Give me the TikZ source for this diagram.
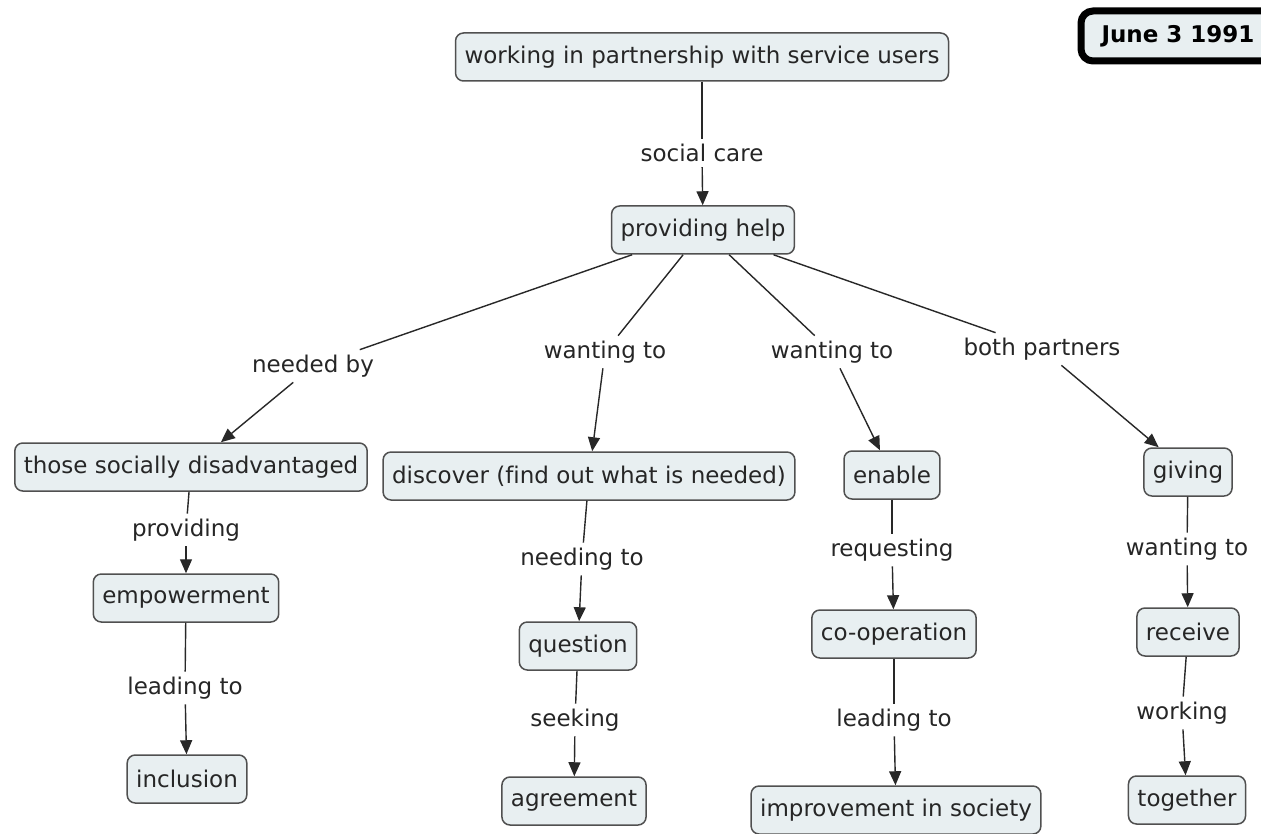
\documentclass[tikz,border=0pt]{standalone}
\usepackage{fontspec}
\setmainfont[Ligatures={NoCommon}]{DejaVu Sans}
\usetikzlibrary{arrows.meta}
\definecolor{boxfill}{RGB}{232,239,241}
\definecolor{boxline}{RGB}{80,80,80}
\definecolor{linkc}{RGB}{40,40,40}
\tikzset{
  concept/.style={draw=boxline, line width=1.5pt, fill=boxfill, rounded corners=8pt,
    minimum height=48pt, inner xsep=9pt, inner ysep=4pt, font=\fontsize{23}{26}\selectfont, text=black!85},
  lbl/.style={inner sep=5pt, font=\fontsize{23}{26}\selectfont, text=black!85},
  link/.style={draw=linkc, line width=1.4pt},
  arr/.style={link, -{Triangle[length=14pt,width=12pt]}},
}
\begin{document}
\begin{tikzpicture}[x=1pt,y=-1pt]
\useasboundingbox[fill=white] (0,0) rectangle (1261,834);
% date
\node[draw=black, line width=7pt, fill=boxfill, rounded corners=12pt, minimum width=194pt, minimum height=50pt,
  font=\bfseries\fontsize{23}{26}\selectfont] (date) at (1178,36) {June 3 1991};
% concepts
\node[concept] (top) at (702,57) {working in partnership with service users};
\node[concept] (ph) at (703,230) {providing help};
\node[concept] (those) at (191,467) {those socially disadvantaged};
\node[concept] (disc) at (589,476) {discover (find out what is needed)};
\node[concept] (enable) at (892,475) {enable};
\node[concept] (giving) at (1188,472) {giving};
\node[concept] (emp) at (186,598) {empowerment};
\node[concept] (incl) at (187,779) {inclusion};
\node[concept] (quest) at (578,646) {question};
\node[concept] (agree) at (574,801) {agreement};
\node[concept] (coop) at (894,634) {co-operation};
\node[concept] (impr) at (896,810) {improvement in society};
\node[concept] (recv) at (1188,632) {receive};
\node[concept] (tog) at (1187,800) {together};
% labels
\node[lbl] (l1) at (702,153) {social care};
\node[lbl] (l2) at (313,366) {needed by};
\node[lbl] (l3) at (605,352) {wanting to};
\node[lbl] (l4) at (832,352) {wanting to};
\node[lbl] (l5) at (1042,349) {both partners};
\node[lbl] (l6) at (186,530) {providing};
\node[lbl] (l7) at (185,688) {leading to};
\node[lbl] (l8) at (582,559) {needing to};
\node[lbl] (l9) at (575,720) {seeking};
\node[lbl] (l10) at (892,550) {requesting};
\node[lbl] (l11) at (894,720) {leading to};
\node[lbl] (l12) at (1187,549) {wanting to};
\node[lbl] (l13) at (1182,713) {working};
% links
\draw[link] (top) -- (l1); \draw[arr] (l1) -- (ph);
\draw[link] (ph) -- (l2); \draw[arr] (l2) -- (those);
\draw[link] (ph) -- (l3); \draw[arr] (l3) -- (disc);
\draw[link] (ph) -- (l4); \draw[arr] (l4) -- (enable);
\draw[link] (ph) -- (l5); \draw[arr] (l5) -- (giving);
\draw[link] (those) -- (l6); \draw[arr] (l6) -- (emp);
\draw[link] (emp) -- (l7); \draw[arr] (l7) -- (incl);
\draw[link] (disc) -- (l8); \draw[arr] (l8) -- (quest);
\draw[link] (quest) -- (l9); \draw[arr] (l9) -- (agree);
\draw[link] (enable) -- (l10); \draw[arr] (l10) -- (coop);
\draw[link] (coop) -- (l11); \draw[arr] (l11) -- (impr);
\draw[link] (giving) -- (l12); \draw[arr] (l12) -- (recv);
\draw[link] (recv) -- (l13); \draw[arr] (l13) -- (tog);
\end{tikzpicture}
\end{document}
